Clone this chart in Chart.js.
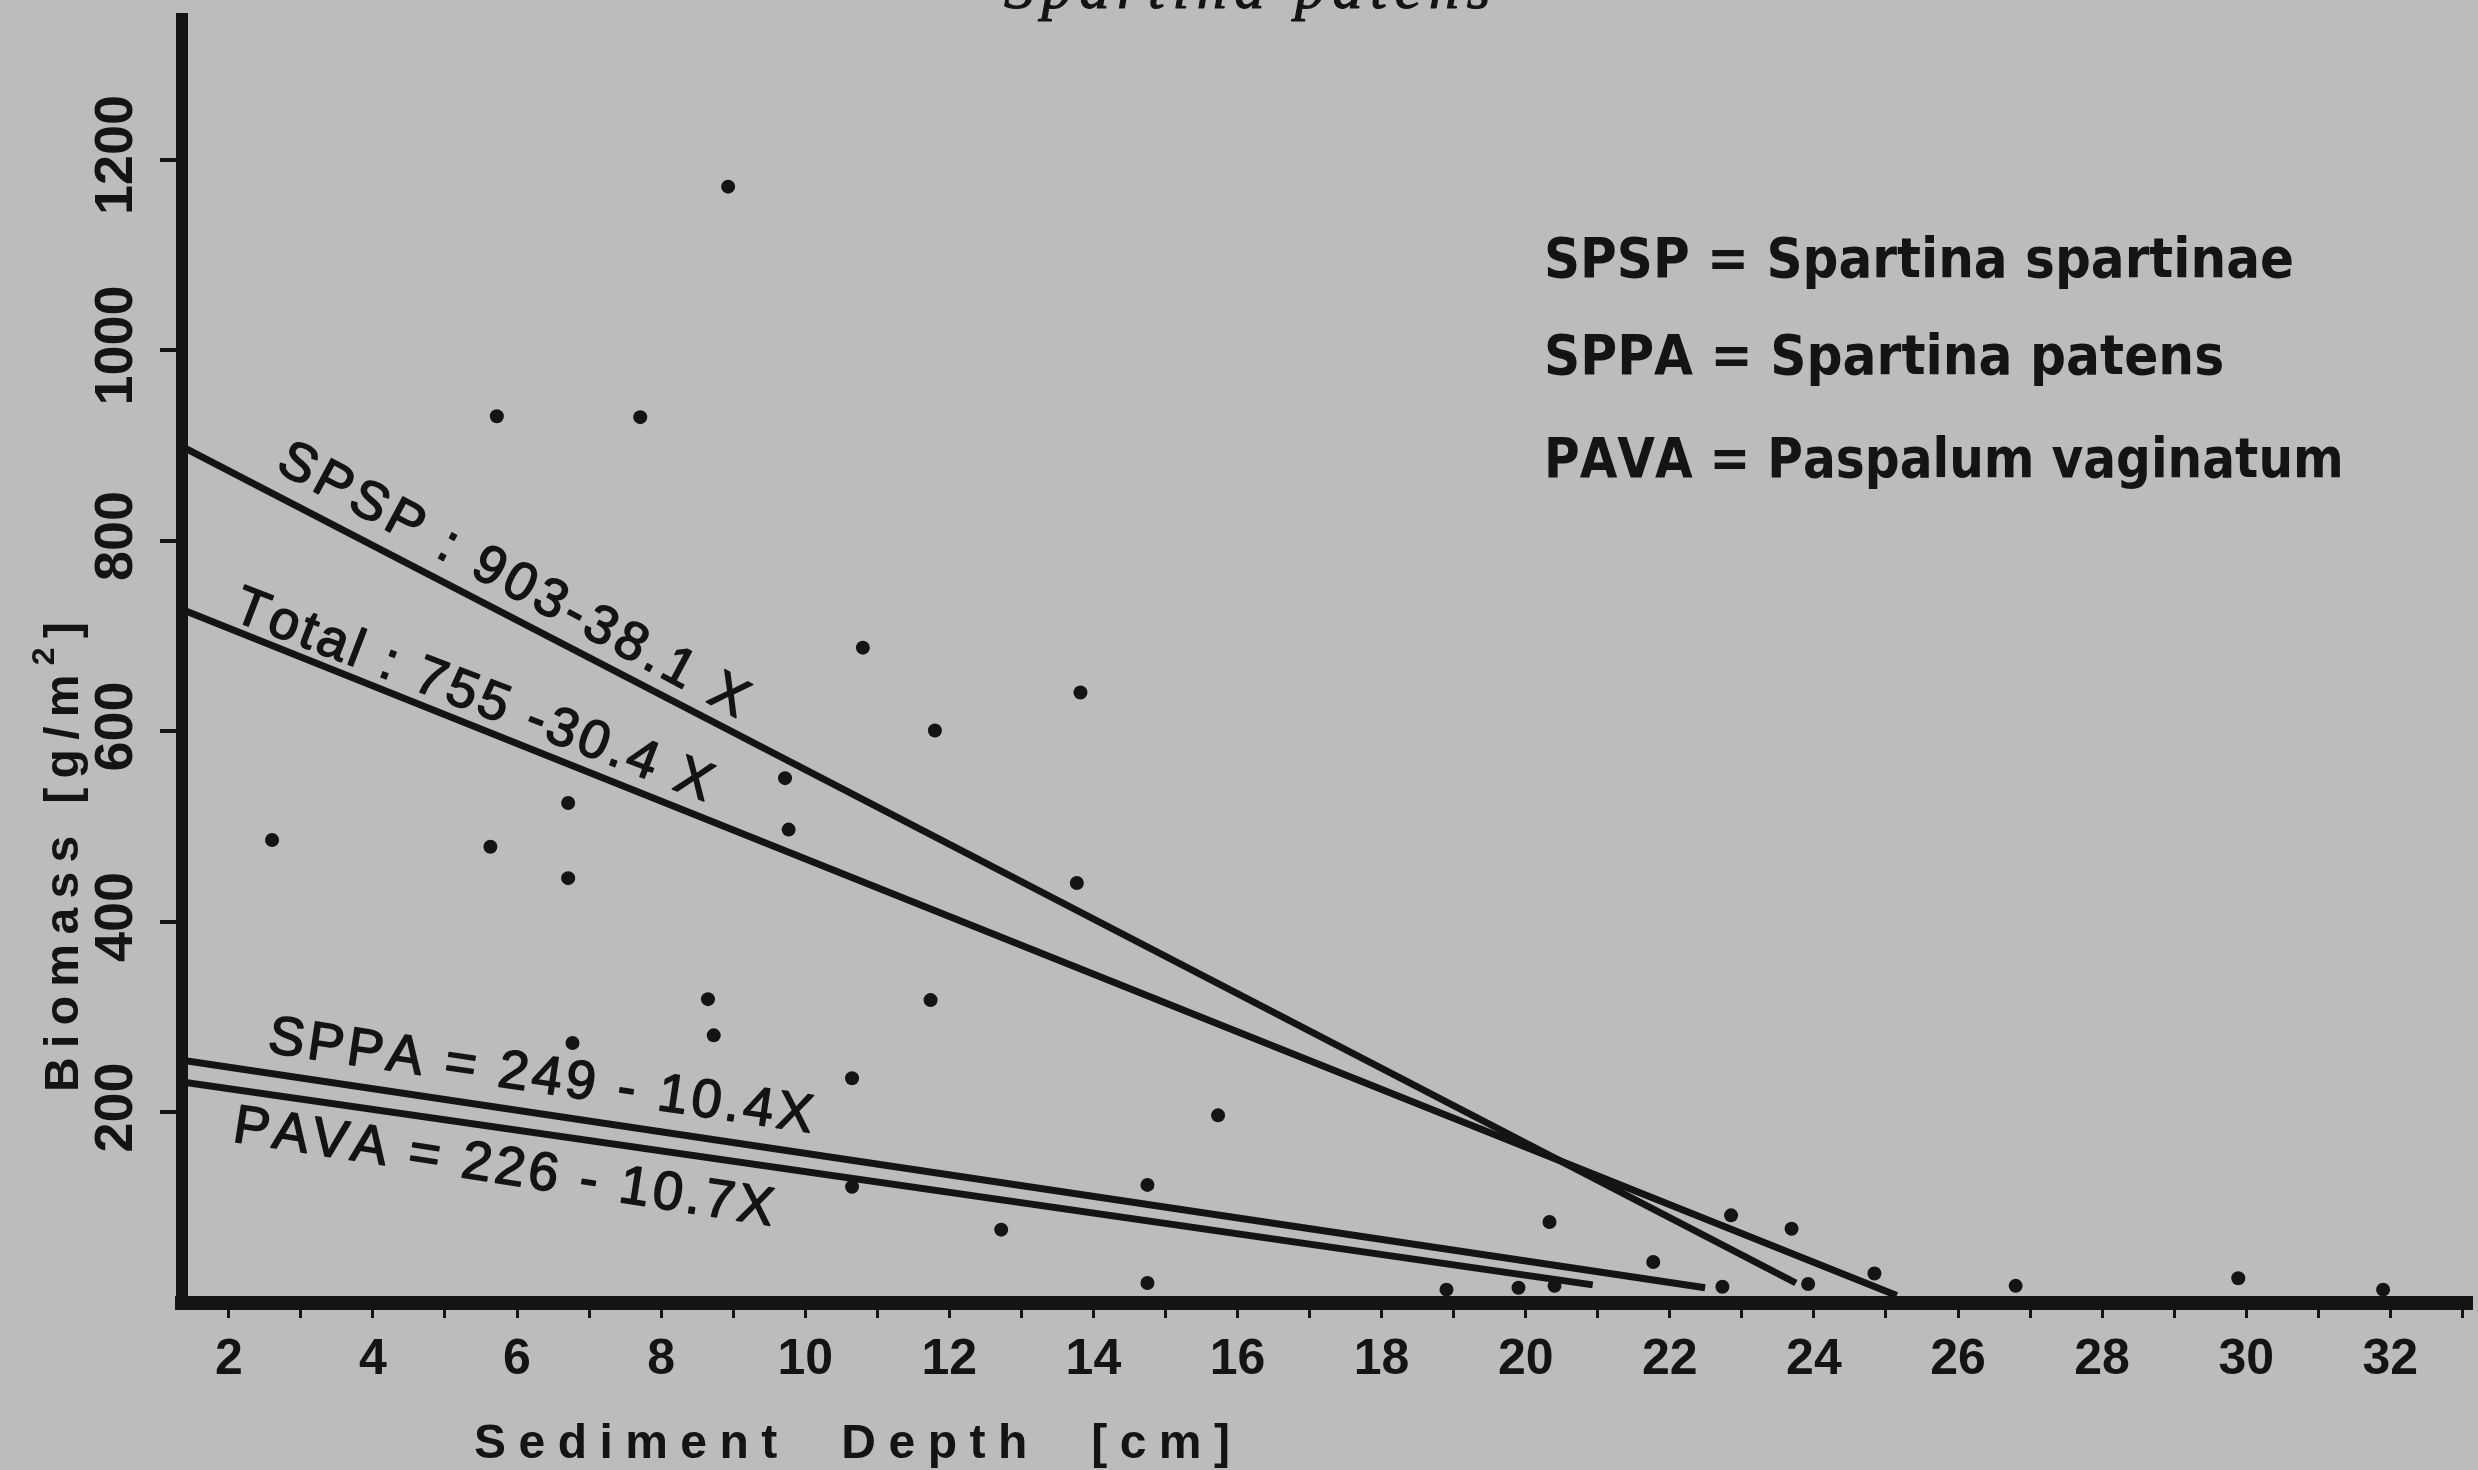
<!DOCTYPE html>
<html lang="en">
<head>
  <meta charset="UTF-8" />
  <title>Spartina patens — Biomass vs Sediment Depth</title>
  <script src="https://cdn.jsdelivr.net/npm/chart.js"></script>
  <style>
    html, body { margin: 0; padding: 0; background: #bbbcbe; }
    #wrap { width: 2478px; height: 1470px; }
  </style>
</head>
<body>
  <div id="wrap"><canvas id="chart" width="2478" height="1470"></canvas></div>

  <script>
    // Cores: sediment depth (cm) and biomass (g/m2)
    const depth   = [8.93, 5.72, 7.71, 10.8, 13.82, 11.8, 9.72, 6.71, 9.77, 2.6, 5.63, 6.71, 13.77, 8.65, 11.74,
                     8.73, 6.77, 10.65, 15.73, 14.75, 10.65, 12.72, 14.75, 20.33, 21.77, 22.85, 23.69, 24.84,
                     29.89, 18.9, 19.9, 20.4, 22.73, 23.92, 26.8, 31.9];
    const biomass = [1172, 931, 930, 688, 641, 601, 551, 525, 497, 486, 479, 446, 441, 319, 318,
                     281, 273, 236, 197, 124, 122, 77, 21, 85, 43, 92, 78, 31,
                     26, 14, 16, 18, 17, 20, 18, 14];

    // Regression lines as drawn (start and end of each)
    const fitNames  = ['SPSP', 'Total', 'SPPA', 'PAVA'];
    const fitStartX = [1.35, 1.35, 1.35, 1.35];
    const fitStartY = [899, 728, 255, 232];
    const fitEndX   = [23.75, 25.15, 22.49, 20.93];
    const fitEndY   = [21, 8, 16, 19];
    const fitLabels = ['SPSP : 903-38.1 X', 'Total : 755 -30.4 X', 'SPPA = 249 - 10.4X', 'PAVA = 226 - 10.7X'];

    const xTicks = [2, 3, 4, 5, 6, 7, 8, 9, 10, 11, 12, 13, 14, 15, 16, 17, 18, 19, 20,
                    21, 22, 23, 24, 25, 26, 27, 28, 29, 30, 31, 32, 33];
    const yTicks = [200, 400, 600, 800, 1000, 1200];

    const legendCodes = ['SPSP', 'SPPA', 'PAVA'];
    const legendNames = ['Spartina spartinae', 'Spartina patens', 'Paspalum vaginatum'];

    const ink = '#141414';
    const paper = '#bbbcbe';

    // where the equation labels sit (data units) and how they are turned
    const eqLayout = [
      { x: 5.94, y: 758, angle: 28.2, width: 525 },
      { x: 5.35, y: 638, angle: 21.0, width: 502 },
      { x: 6.30, y: 237, angle: 8.4, width: 546 },
      { x: 5.73, y: 142, angle: 8.9, width: 534 }
    ];

    // draw text segments starting at (x, y), spread to a given width
    function drawSpaced(ctx, segs, x, y, width, stroke) {
      ctx.save();
      ctx.letterSpacing = '0px';
      let w0 = 0, n = 0;
      segs.forEach(s => {
        ctx.font = s.font;
        w0 += ctx.measureText(s.t).width;
        n += s.t.length;
      });
      let sp = (width - w0) / Math.max(n - 1, 1);
      ctx.translate(x, y);
      if (sp < 0) { ctx.scale(width / w0, 1); sp = 0; }
      if (stroke) { ctx.strokeStyle = ctx.fillStyle; ctx.lineWidth = stroke; ctx.lineJoin = 'round'; }
      let cx = 0;
      segs.forEach(s => {
        ctx.font = s.font;
        for (const ch of s.t) {
          ctx.fillText(ch, cx, s.dy || 0);
          if (stroke) ctx.strokeText(ch, cx, s.dy || 0);
          cx += ctx.measureText(ch).width + sp;
        }
      });
      ctx.restore();
    }

    const textPlugin = {
      id: 'textPlugin',
      beforeDraw(chart) {
        const ctx = chart.ctx;
        ctx.save();
        ctx.fillStyle = paper;
        ctx.fillRect(0, 0, chart.width, chart.height);
        ctx.restore();
      },
      afterDraw(chart) {
        const ctx = chart.ctx;
        const xs = chart.scales.x, ys = chart.scales.y;
        ctx.save();
        ctx.fillStyle = ink;

        // cut-off heading at the very top
        ctx.textBaseline = 'alphabetic';
        drawSpaced(ctx, [{ t: 'Spartina patens', font: 'italic 60px "Liberation Serif", serif' }], 1004, 8, 486, 1.2);

        // y tick labels, turned
        yTicks.forEach(v => {
          const py = ys.getPixelForValue(v);
          ctx.save();
          ctx.translate(117, py - 5);
          ctx.rotate(-Math.PI / 2);
          ctx.font = 'bold 54px "Liberation Sans", Arial, sans-serif';
          ctx.textAlign = 'center';
          ctx.textBaseline = 'middle';
          ctx.fillText(String(v), 0, 0);
          ctx.restore();
        });

        // y axis title
        ctx.save();
        ctx.translate(78, 1092);
        ctx.rotate(-Math.PI / 2);
        ctx.textBaseline = 'alphabetic';
        const tf = 'bold 48px "Liberation Sans", Arial, sans-serif';
        drawSpaced(ctx, [
          { t: 'Biomass [g/m', font: tf },
          { t: '2', font: 'bold 32px "Liberation Sans", Arial, sans-serif', dy: -24 },
          { t: ']', font: tf }
        ], 0, 0, 470);
        ctx.restore();

        // x axis title
        ctx.textBaseline = 'alphabetic';
        drawSpaced(ctx, [{ t: 'Sediment  Depth  [cm]', font: 'bold 48px "Liberation Sans", Arial, sans-serif' }], 474, 1458, 756);

        // legend block
        const legBase = [277, 374, 477];
        const legWidth = [750, 675, 786];
        legendCodes.forEach((c, i) => {
          drawSpaced(ctx, [{ t: c + ' = ' + legendNames[i],
            font: 'bold 56px "Liberation Sans Narrow", "DejaVu Sans Condensed", "Liberation Sans", sans-serif' }],
            1544, legBase[i], legWidth[i]);
        });

        // equation labels along the lines
        fitLabels.forEach((t, i) => {
          const L = eqLayout[i];
          const px = xs.getPixelForValue(L.x), py = ys.getPixelForValue(L.y);
          ctx.save();
          ctx.translate(px, py);
          ctx.rotate(L.angle * Math.PI / 180);
          ctx.textBaseline = 'middle';
          drawSpaced(ctx, [{ t, font: '54px "Liberation Sans", Arial, sans-serif' }], -L.width / 2, 0, L.width, 1.6);
          ctx.restore();
        });

        ctx.restore();
      }
    };

    const datasets = [{
      label: 'cores',
      data: depth.map((x, i) => ({ x, y: biomass[i] })),
      showLine: false,
      pointRadius: 7,
      pointBackgroundColor: ink,
      pointBorderWidth: 0
    }];
    fitNames.forEach((name, i) => {
      datasets.push({
        label: name,
        data: [{ x: fitStartX[i], y: fitStartY[i] }, { x: fitEndX[i], y: fitEndY[i] }],
        showLine: true,
        borderColor: ink,
        borderWidth: 7,
        pointRadius: 0,
        fill: false
      });
    });

    new Chart(document.getElementById('chart'), {
      type: 'scatter',
      data: { datasets },
      plugins: [textPlugin],
      options: {
        responsive: false,
        animation: false,
        devicePixelRatio: 1,
        layout: { padding: { top: 19, right: 0, bottom: 0, left: 0 } },
        plugins: { legend: { display: false }, tooltip: { enabled: false } },
        scales: {
          x: {
            type: 'linear',
            min: 1.35,
            max: 33.12,
            afterBuildTicks: s => { s.ticks = xTicks.map(v => ({ value: v })); },
            afterFit: s => { s.height = 167; },
            border: { display: true, color: ink, width: 14 },
            grid: { drawOnChartArea: false, drawTicks: true, tickLength: 15, lineWidth: 3, color: ink },
            ticks: {
              autoSkip: false,
              maxRotation: 0,
              padding: 12,
              color: ink,
              font: { family: '"Liberation Sans", Arial, sans-serif', size: 50, weight: 'bold' },
              callback: v => (v % 2 === 0 ? String(v) : '')
            }
          },
          y: {
            type: 'linear',
            min: 0,
            max: 1348,
            afterBuildTicks: s => { s.ticks = yTicks.map(v => ({ value: v })); },
            afterFit: s => { s.width = 182; },
            border: { display: true, color: ink, width: 12 },
            grid: { drawOnChartArea: false, drawTicks: true, tickLength: 22, lineWidth: 4, color: ink },
            ticks: { display: false }
          }
        }
      }
    });
  </script>
</body>
</html>
